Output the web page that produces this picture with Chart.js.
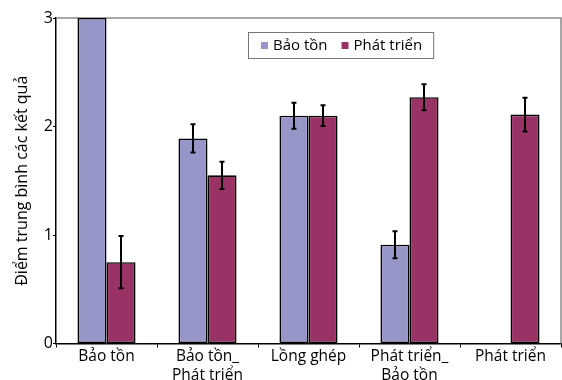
<!DOCTYPE html>
<html>
<head>
<meta charset="utf-8">
<script src="https://cdn.jsdelivr.net/npm/chart.js@4"></script>
<style>
  html, body { margin: 0; padding: 0; background: #fff; }
</style>
</head>
<body>
<canvas id="graficoBarras" width="562" height="380"></canvas>
<script>
// Dados do gráfico
const categorias = [['Bảo tồn'], ['Bảo tồn_', 'Phát triển'], ['Lồng ghép'], ['Phát triển_', 'Bảo tồn'], ['Phát triển']];
const serieNomes = ['Bảo tồn', 'Phát triển'];
const baoTon = [3, 1.89, 2.10, 0.91, null];
const baoTonErro = [0, 0.13, 0.12, 0.125, null];
const phatTrien = [0.75, 1.55, 2.10, 2.27, 2.11];
const phatTrienErro = [0.24, 0.125, 0.095, 0.12, 0.155];
const yTicks = [0, 1, 2, 3];
const tituloY = 'Điểm trung bình các kết quả';

Chart.defaults.font.family = '"Open Sans", sans-serif';
Chart.defaults.color = '#000';

// Barras de erro
const barrasErro = {
  id: 'barrasErro',
  afterDatasetsDraw(chart) {
    const ctx = chart.ctx;
    const y = chart.scales.y;
    ctx.save();
    ctx.strokeStyle = '#000';
    ctx.lineWidth = 2;
    chart.data.datasets.forEach((ds, i) => {
      const meta = chart.getDatasetMeta(i);
      meta.data.forEach((bar, j) => {
        const v = ds.data[j];
        const e = ds.erros[j];
        if (v == null || !e) return;
        const topo = y.getPixelForValue(v + e);
        const base = y.getPixelForValue(v - e);
        ctx.beginPath();
        ctx.moveTo(bar.x, topo); ctx.lineTo(bar.x, base);
        ctx.moveTo(bar.x - 2.5, topo); ctx.lineTo(bar.x + 2.5, topo);
        ctx.moveTo(bar.x - 2.5, base); ctx.lineTo(bar.x + 2.5, base);
        ctx.stroke();
      });
    });
    ctx.restore();
  }
};

// Moldura cinza no topo e à direita
const moldura = {
  id: 'moldura',
  beforeDatasetsDraw(chart) {
    const { ctx, chartArea } = chart;
    ctx.save();
    ctx.strokeStyle = '#8a8a8a';
    ctx.lineWidth = 1.5;
    ctx.beginPath();
    ctx.moveTo(chartArea.left, chartArea.top);
    ctx.lineTo(chartArea.right, chartArea.top);
    ctx.lineTo(chartArea.right, chartArea.bottom);
    ctx.stroke();
    ctx.restore();
  }
};

// Legenda dentro da área do gráfico
const legendaInterna = {
  id: 'legendaInterna',
  afterDraw(chart) {
    const { ctx, chartArea } = chart;
    const x0 = chartArea.left + 192;
    const y0 = chartArea.top + 14;
    ctx.save();
    ctx.font = '15px "Open Sans", sans-serif';
    const itens = chart.data.datasets.map(ds => ({
      label: ds.label,
      cor: ds.backgroundColor,
      w: ctx.measureText(ds.label).width
    }));
    let largura = 13 + 11;
    itens.forEach((it, k) => { largura += 7 + 5 + it.w + (k < itens.length - 1 ? 14 : 0); });
    ctx.fillStyle = '#fff';
    ctx.fillRect(x0, y0, largura, 26);
    ctx.strokeStyle = '#777';
    ctx.lineWidth = 1;
    ctx.strokeRect(x0 + 0.5, y0 + 0.5, largura, 26);
    let x = x0 + 13;
    ctx.textBaseline = 'middle';
    itens.forEach(it => {
      ctx.fillStyle = it.cor;
      ctx.fillRect(x, y0 + 10, 7, 7);
      x += 12;
      ctx.fillStyle = '#000';
      ctx.fillText(it.label, x, y0 + 14);
      x += it.w + 14;
    });
    ctx.restore();
  }
};

const ctx = document.getElementById('graficoBarras').getContext('2d');

new Chart(ctx, {
  type: 'bar',
  data: {
    labels: categorias,
    datasets: [
      {
        label: serieNomes[0],
        data: baoTon,
        erros: baoTonErro,
        backgroundColor: '#9696c8',
        borderColor: '#000',
        borderWidth: 1.6,
        borderSkipped: false
      },
      {
        label: serieNomes[1],
        data: phatTrien,
        erros: phatTrienErro,
        backgroundColor: '#993366',
        borderColor: '#000',
        borderWidth: 1.6,
        borderSkipped: false
      }
    ]
  },
  options: {
    responsive: false,
    animation: false,
    layout: { padding: { top: 18, right: 1, left: 0, bottom: 0 } },
    datasets: { bar: { barPercentage: 1, categoryPercentage: 0.575 } },
    plugins: {
      legend: { display: false },
      tooltip: { enabled: false }
    },
    scales: {
      x: {
        afterFit: s => { s.height = 36.5; },
        grid: { offset: true, drawOnChartArea: false, tickLength: 4, color: '#000' },
        border: { color: '#000', width: 1.5 },
        ticks: { font: { size: 15.5 }, color: '#000', padding: 0 }
      },
      y: {
        min: 0,
        max: 3,
        afterFit: s => { s.width = 56; },
        afterBuildTicks: s => { s.ticks = yTicks.map(v => ({ value: v })); },
        grid: { drawOnChartArea: false, tickLength: 3, color: '#000' },
        border: { color: '#000', width: 1.5 },
        ticks: { font: { size: 16 }, color: '#000', padding: 0 },
        title: {
          display: true,
          text: tituloY,
          font: { size: 16 },
          color: '#000',
          padding: { top: 13, bottom: 0 }
        }
      }
    }
  },
  plugins: [moldura, barrasErro, legendaInterna]
});
</script>
</body>
</html>
